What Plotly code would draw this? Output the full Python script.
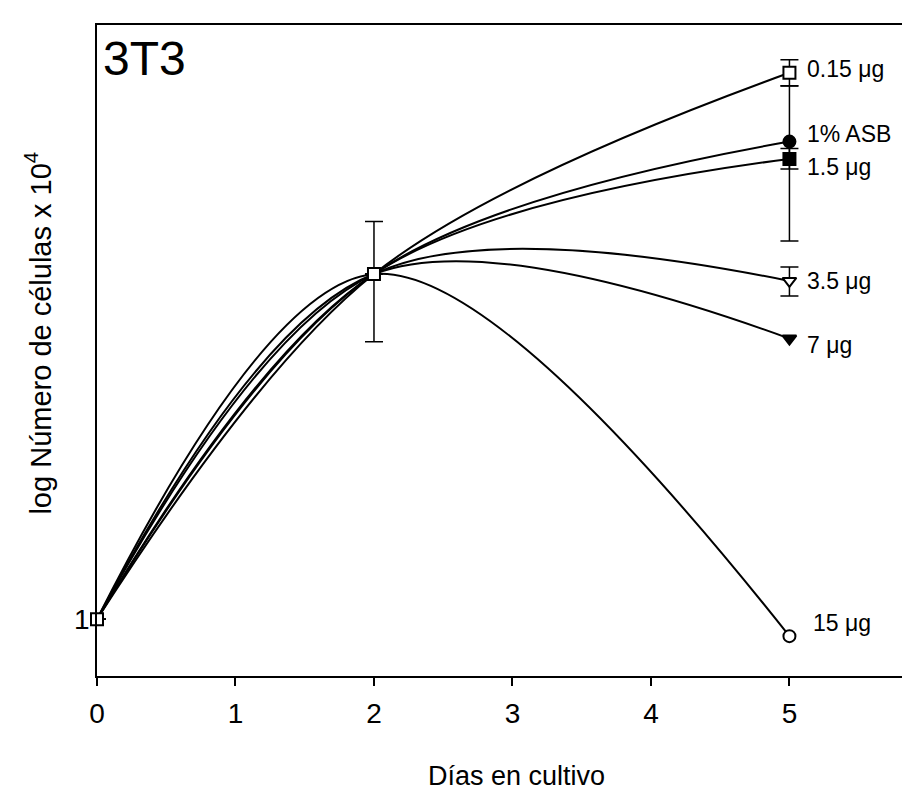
import math
import plotly.graph_objects as go

days = [0, 2, 5]
series_names = ["15 μg", "7 μg", "3.5 μg", "1.5 μg", "1% ASB", "0.15 μg"]
vals_15 = [1.0, 13.7, 0.88]
vals_7 = [1.0, 13.7, 8.4]
vals_35 = [1.0, 13.7, 13.0]
vals_15ug = [1.0, 13.7, 32.8]
vals_asb = [1.0, 13.7, 37.4]
vals_015 = [1.0, 13.7, 63.0]

err_plus_35 = [0, 0, 1.45]
err_minus_35 = [0, 0, 1.4]
err_plus_15ug = [0, 0, 2.7]
err_minus_15ug = [0, 0, 2.4]
err_plus_asb = [0, 0, 19.7]
err_minus_asb = [0, 0, 19.8]
err_plus_015 = [0, 6.7, 6.6]
err_minus_015 = [0, 5.5, 6.0]

FONT = "Arial, Liberation Sans, sans-serif"

fig = go.Figure()

def add(vals, symbol, fill, name, ep=None, em=None, all_markers=False):
    sizes = [12, 12, 12] if all_markers else [0, 0, 12]
    tr = go.Scatter(
        x=days, y=vals, name=name, mode="lines+markers",
        line=dict(color="black", width=2, shape="spline", smoothing=1),
        marker=dict(symbol=symbol, size=sizes, color=fill, opacity=1,
                    line=dict(color="black", width=2)),
        cliponaxis=False, showlegend=False,
    )
    if ep is not None:
        tr.error_y = dict(type="data", symmetric=False, array=ep, arrayminus=em,
                          color="black", thickness=1.5, width=9)
    fig.add_trace(tr)

add(vals_15, "circle", "white", series_names[0])
add(vals_7, "triangle-down", "black", series_names[1])
add(vals_35, "triangle-down", "white", series_names[2], err_plus_35, err_minus_35)
add(vals_15ug, "square", "black", series_names[3], err_plus_15ug, err_minus_15ug)
add(vals_asb, "circle", "black", series_names[4], err_plus_asb, err_minus_asb)
add(vals_015, "square", "white", series_names[5], err_plus_015, err_minus_015, all_markers=True)

labels = [
    (series_names[0], vals_15[2], 22, 13),
    (series_names[1], vals_7[2], 16, -6),
    (series_names[2], vals_35[2], 16, 0),
    (series_names[3], vals_15ug[2], 16, -8),
    (series_names[4], vals_asb[2], 16, 8),
    (series_names[5], vals_015[2], 16, 4),
]
for text, yv, dx, dy in labels:
    fig.add_annotation(x=5, y=math.log10(yv), text=text, showarrow=False, xanchor="left",
                       yanchor="middle", xshift=dx, yshift=dy,
                       font=dict(family=FONT, size=23, color="black"))

fig.add_annotation(xref="paper", yref="paper", x=0, y=1, xanchor="left", yanchor="top",
                   xshift=4, yshift=-5, text="3T3", showarrow=False,
                   font=dict(family=FONT, size=48, color="black"))

fig.add_annotation(xref="paper", yref="paper", x=0, y=0.526, xanchor="center",
                   yanchor="middle", xshift=-59, textangle=-90, showarrow=False,
                   text="log Número de células x 10<sup>4</sup>",
                   font=dict(family=FONT, size=29, color="black"))

fig.add_annotation(xref="paper", yref="paper", x=0.52, y=0, xanchor="center",
                   yanchor="middle", yshift=-100, showarrow=False,
                   text="Días en cultivo",
                   font=dict(family=FONT, size=27, color="black"))

# page body has an 8px margin; size the figure so the plot area lands where the reference has it
fig.update_layout(
    width=902, height=787,
    margin=dict(l=89, r=5, t=17, b=119),
    paper_bgcolor="white", plot_bgcolor="white",
    font=dict(family=FONT, color="black"),
)
fig.update_xaxes(range=[0, 5.82], tickvals=[0, 1, 2, 3, 4, 5], ticks="outside",
                 ticklen=8, tickwidth=1.5, tickcolor="black", showline=True,
                 linecolor="black", linewidth=1.5, mirror=True, showgrid=False,
                 zeroline=False, tickfont=dict(family=FONT, size=28),
                 ticklabelstandoff=4)
fig.update_yaxes(type="log", range=[-0.1867, 1.9567], tickvals=[1], ticktext=["1"],
                 ticks="", showline=True, linecolor="black", linewidth=1.5,
                 mirror=True, showgrid=False, zeroline=False,
                 tickfont=dict(family=FONT, size=28))

fig.write_html("out.html")
